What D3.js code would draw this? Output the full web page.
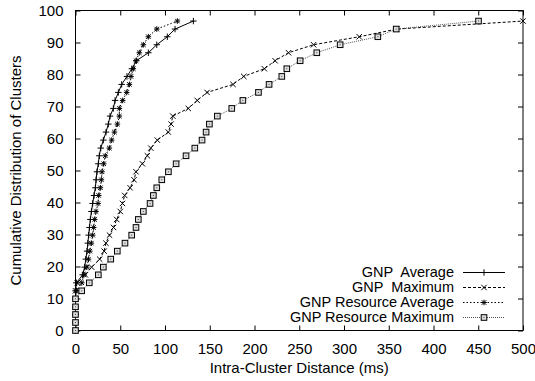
<!DOCTYPE html>
<html>
<head>
<meta charset="utf-8">
<script src="https://cdn.jsdelivr.net/npm/d3@7"></script>
<style>
  body { margin: 0; background: #fff; }
  text { font-family: "Liberation Sans", Arial, sans-serif; fill: #000; }
</style>
</head>
<body>
<div id="chart"></div>
<script>
// cumulative levels (percent of clusters), one per point
const cdfLevels = [0, 2.5, 5, 7.4, 9.9, 12.4, 14.9, 17.4, 19.8, 22.3, 24.8, 27.3, 29.8, 32.2, 34.7, 37.2, 39.7, 42.2, 44.6, 47.1,
  49.6, 52.1, 54.6, 57, 59.5, 62, 64.5, 67, 69.4, 71.9, 74.4, 76.9, 79.4, 81.8, 84.3, 86.8, 89.3, 91.8, 94.2, 96.7];

// intra-cluster distance (ms) at each level
const gnpAverage = [0, 0, 0, 0, 0, 0, 1, 8, 10.2, 11.5, 12.9, 13.8, 14.7, 15.6, 16.6, 17.8, 19.2, 20.7, 22.2, 23,
  24, 25.5, 26.6, 28.2, 31.1, 34.1, 36.7, 38.6, 42.3, 44.2, 47.9, 51.6, 57.5, 63, 68, 81.4, 90.8, 102.6, 111.2, 131.7];
const gnpMaximum = [0, 0, 0, 0, 0, 0, 2, 11, 18, 27, 32, 34, 38, 42.5, 46, 50, 52.5, 55, 61, 65.4,
  67.6, 74.7, 80.3, 84.1, 91.4, 103.7, 106.8, 108.7, 126, 136, 147, 176, 188, 211, 223, 238, 266, 317, 359, 500];
const resourceAverage = [0, 0, 0, 0, 0, 1, 7, 9.5, 12.7, 14.5, 16, 17.7, 19.2, 20.3, 21.4, 22.9, 25.2, 25.9, 27.8, 28.9,
  29.6, 31.5, 33.3, 37.8, 40.4, 43.5, 46.8, 49, 49, 52.7, 57.2, 60.2, 62, 64.6, 67.6, 71.3, 75.8, 81.4, 90.8, 113.8];
const resourceMaximum = [0, 0, 0, 0, 0, 6.9, 15.4, 25.5, 31.1, 39.4, 46.7, 55.3, 62.8, 67.6, 70.2, 75.8, 83.3, 87, 90.8, 96.4,
  103.8, 112.4, 123.5, 133.3, 141.4, 145.9, 149.6, 158.5, 174.6, 187, 204.4, 216.3, 230.5, 236.1, 251, 269.6, 295.7, 337.8, 358.3, 450.3];

const seriesNames = ["GNP  Average", "GNP  Maximum", "GNP Resource Average", "GNP Resource Maximum"];
const xTicks = [0, 50, 100, 150, 200, 250, 300, 350, 400, 450, 500];
const yTicks = [0, 10, 20, 30, 40, 50, 60, 70, 80, 90, 100];

const width = 535, height = 381;
const margin = { left: 75.5, right: 12, top: 10.5, bottom: 50.5 };

const svg = d3.select("#chart").append("svg")
  .attr("width", width)
  .attr("height", height);

const xScale = d3.scaleLinear().domain([0, 500]).range([margin.left, width - margin.right]);
const yScale = d3.scaleLinear().domain([0, 100]).range([height - margin.bottom, margin.top]);

// marker shapes, gnuplot style
function plusPath(s) { return `M${-s},0H${s}M0,${-s}V${s}`; }
function crossPath(s) { return `M${-s},${-s}L${s},${s}M${-s},${s}L${s},${-s}`; }
function starPath(s) { return plusPath(s) + crossPath(s * 0.8); }

const styles = [
  { data: gnpAverage, dash: null, stroke: "#000", marker: "plus" },
  { data: gnpMaximum, dash: "3,2", stroke: "#000", marker: "cross" },
  { data: resourceAverage, dash: "1.5,2", stroke: "#000", marker: "star" },
  { data: resourceMaximum, dash: "1,1", stroke: "#555", marker: "square" }
];

function drawMarker(g, type) {
  if (type === "plus") {
    g.append("path").attr("d", plusPath(3.2)).attr("stroke", "#000").attr("fill", "none");
  } else if (type === "cross") {
    g.append("path").attr("d", crossPath(2.7)).attr("stroke", "#000").attr("fill", "none");
  } else if (type === "star") {
    g.append("path").attr("d", starPath(2.8)).attr("stroke", "#000").attr("fill", "none");
  } else {
    g.append("rect").attr("x", -2.8).attr("y", -2.8).attr("width", 5.6).attr("height", 5.6)
      .attr("stroke", "#000").attr("fill", "#ddd");
    g.append("rect").attr("x", -0.5).attr("y", -0.5).attr("width", 1).attr("height", 1).attr("fill", "#444");
  }
}

// frame
svg.append("rect")
  .attr("x", margin.left).attr("y", margin.top)
  .attr("width", width - margin.right - margin.left)
  .attr("height", height - margin.bottom - margin.top)
  .attr("fill", "none").attr("stroke", "#000");

const plotH = height - margin.bottom - margin.top;

// axes with inward ticks on all four sides
svg.append("g")
  .attr("transform", "translate(0," + (height - margin.bottom) + ")")
  .call(d3.axisBottom(xScale).tickValues(xTicks).tickSize(-5).tickPadding(13))
  .call(g => g.select(".domain").remove());
svg.append("g")
  .attr("transform", "translate(0," + margin.top + ")")
  .call(d3.axisTop(xScale).tickValues(xTicks).tickSize(-5).tickFormat(""))
  .call(g => g.select(".domain").remove());
svg.append("g")
  .attr("transform", "translate(" + margin.left + ",0)")
  .call(d3.axisLeft(yScale).tickValues(yTicks).tickSize(-5).tickPadding(12))
  .call(g => g.select(".domain").remove());
svg.append("g")
  .attr("transform", "translate(" + (width - margin.right) + ",0)")
  .call(d3.axisRight(yScale).tickValues(yTicks).tickSize(-5).tickFormat(""))
  .call(g => g.select(".domain").remove());

svg.selectAll(".tick text")
  .attr("font-size", 15)
  .attr("font-family", "Liberation Sans, Arial, sans-serif");

// series
const line = d3.line()
  .x(d => xScale(d[0]))
  .y(d => yScale(d[1]));

styles.forEach(s => {
  const pts = s.data.map((v, i) => [v, cdfLevels[i]]);
  svg.append("path")
    .datum(pts)
    .attr("d", line)
    .attr("fill", "none")
    .attr("stroke", s.stroke)
    .attr("stroke-width", 1)
    .attr("stroke-dasharray", s.dash);
  pts.forEach(p => {
    const g = svg.append("g").attr("transform", `translate(${xScale(p[0])},${yScale(p[1])})`);
    drawMarker(g, s.marker);
  });
});

// legend
const legendX = 454, legendY = 277, legendStep = 15;
styles.forEach((s, i) => {
  const y = legendY + i * legendStep;
  svg.append("text")
    .attr("x", legendX).attr("y", y)
    .attr("text-anchor", "end")
    .attr("font-size", 14.5)
    .style("white-space", "pre")
    .text(seriesNames[i]);
  svg.append("line")
    .attr("x1", 463).attr("x2", 505)
    .attr("y1", y - 4.5).attr("y2", y - 4.5)
    .attr("stroke", s.stroke)
    .attr("stroke-dasharray", s.dash);
  drawMarker(svg.append("g").attr("transform", `translate(484,${y - 4.5})`), s.marker);
});

// axis titles
svg.append("text")
  .attr("x", (margin.left + width - margin.right) / 2)
  .attr("y", 373)
  .attr("text-anchor", "middle")
  .attr("font-size", 15)
  .text("Intra-Cluster Distance (ms)");
svg.append("text")
  .attr("transform", "translate(21," + (margin.top + plotH / 2) + ") rotate(-90)")
  .attr("text-anchor", "middle")
  .attr("font-size", 15)
  .text("Cumulative Distribution of Clusters");
</script>
</body>
</html>
